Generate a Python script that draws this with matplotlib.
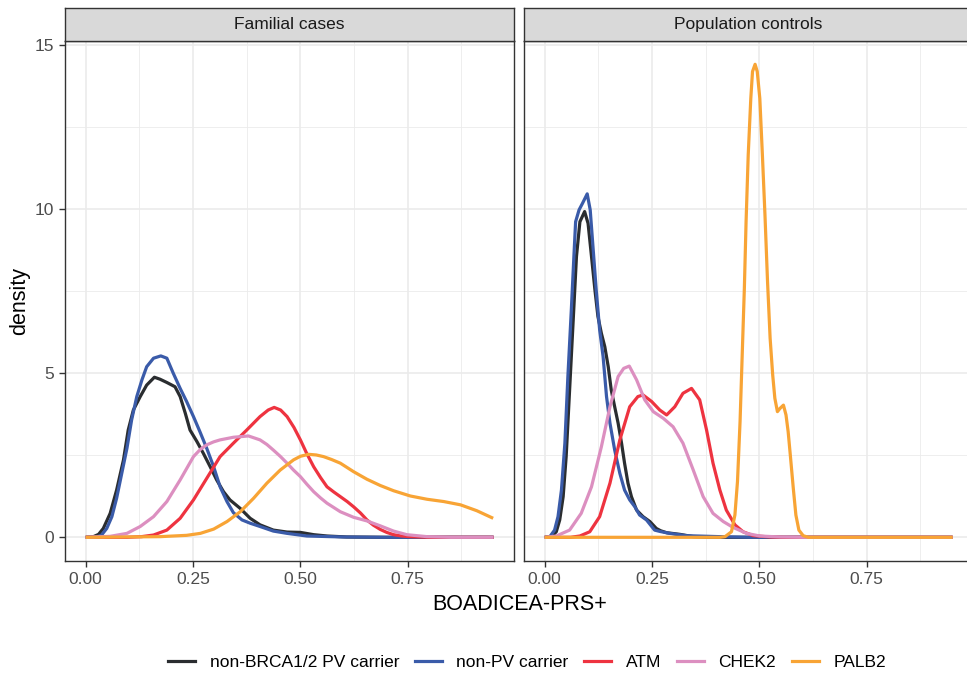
import matplotlib
matplotlib.use("Agg")
import matplotlib.pyplot as plt
from matplotlib.lines import Line2D

plt.rcParams['font.family'] = ['Liberation Sans', 'DejaVu Sans']

groups = ["non-BRCA1/2 PV carrier", "non-PV carrier", "ATM", "CHEK2", "PALB2"]
colors = ["#2A2D30", "#3A5BA9", "#EE3340", "#DC8FC0", "#F8A435"]
panels = ["Familial cases", "Population controls"]
x_ticks = [0.00, 0.25, 0.50, 0.75]
x_ticklabels = ["0.00", "0.25", "0.50", "0.75"]
y_ticks = [0, 5, 10, 15]
y_ticklabels = ["0", "5", "10", "15"]

# ---- Familial cases ----
fam_black_x = [0.0, 0.018, 0.030, 0.041, 0.057, 0.072, 0.088, 0.099, 0.111, 0.127, 0.142, 0.160, 0.173, 0.189, 0.208, 0.220, 0.232, 0.243, 0.259, 0.274, 0.290, 0.305, 0.321, 0.336, 0.360, 0.383, 0.406, 0.437, 0.469, 0.500, 0.531, 0.562, 0.608, 0.70, 0.95]
fam_black_y = [0.0, 0.02, 0.09, 0.27, 0.73, 1.44, 2.36, 3.27, 3.88, 4.29, 4.64, 4.88, 4.82, 4.72, 4.59, 4.29, 3.78, 3.27, 2.92, 2.56, 2.15, 1.75, 1.39, 1.14, 0.88, 0.58, 0.38, 0.22, 0.16, 0.15, 0.08, 0.04, 0.01, 0.0, 0.0]

fam_blue_x = [0.0, 0.026, 0.037, 0.049, 0.061, 0.072, 0.084, 0.096, 0.107, 0.119, 0.131, 0.142, 0.158, 0.175, 0.189, 0.204, 0.220, 0.235, 0.251, 0.266, 0.282, 0.298, 0.313, 0.329, 0.344, 0.364, 0.383, 0.406, 0.437, 0.469, 0.515, 0.60, 0.70, 0.95]
fam_blue_y = [0.0, 0.01, 0.07, 0.27, 0.63, 1.19, 1.95, 2.71, 3.58, 4.29, 4.80, 5.20, 5.46, 5.53, 5.46, 5.00, 4.54, 4.14, 3.68, 3.22, 2.71, 2.15, 1.54, 1.09, 0.75, 0.53, 0.43, 0.33, 0.19, 0.12, 0.04, 0.01, 0.0, 0.0]

fam_red_x = [0.0, 0.096, 0.130, 0.158, 0.189, 0.22, 0.251, 0.282, 0.313, 0.344, 0.375, 0.406, 0.425, 0.439, 0.454, 0.469, 0.485, 0.5, 0.515, 0.531, 0.547, 0.562, 0.578, 0.593, 0.609, 0.624, 0.640, 0.655, 0.670, 0.686, 0.701, 0.717, 0.736, 0.756, 0.8, 0.95]
fam_red_y = [0.0, 0.0, 0.02, 0.07, 0.22, 0.58, 1.14, 1.8, 2.46, 2.87, 3.27, 3.68, 3.88, 3.96, 3.88, 3.68, 3.35, 2.97, 2.55, 2.15, 1.82, 1.54, 1.38, 1.24, 1.09, 0.93, 0.74, 0.53, 0.37, 0.24, 0.15, 0.08, 0.04, 0.02, 0.0, 0.0]

fam_pink_x = [0.0, 0.057, 0.096, 0.127, 0.158, 0.189, 0.22, 0.251, 0.267, 0.282, 0.298, 0.313, 0.344, 0.379, 0.406, 0.422, 0.437, 0.453, 0.469, 0.484, 0.5, 0.515, 0.531, 0.547, 0.562, 0.593, 0.624, 0.655, 0.686, 0.717, 0.748, 0.795, 0.85, 0.95]
fam_pink_y = [0.0, 0.03, 0.12, 0.33, 0.63, 1.09, 1.75, 2.46, 2.68, 2.82, 2.91, 2.97, 3.05, 3.09, 2.97, 2.83, 2.66, 2.47, 2.26, 2.05, 1.85, 1.62, 1.39, 1.20, 1.04, 0.78, 0.61, 0.5, 0.35, 0.19, 0.08, 0.02, 0.0, 0.0]

fam_orange_x = [0.0, 0.173, 0.235, 0.267, 0.298, 0.329, 0.36, 0.391, 0.422, 0.453, 0.484, 0.500, 0.519, 0.537, 0.554, 0.573, 0.593, 0.624, 0.655, 0.686, 0.717, 0.756, 0.795, 0.834, 0.873, 0.911, 0.949]
fam_orange_y = [0.0, 0.02, 0.06, 0.12, 0.25, 0.48, 0.78, 1.19, 1.65, 2.05, 2.36, 2.47, 2.53, 2.51, 2.46, 2.37, 2.26, 2.0, 1.77, 1.58, 1.42, 1.26, 1.16, 1.09, 0.99, 0.81, 0.58]

# ---- Population controls ----
pop_black_x = [0.0, 0.016, 0.027, 0.035, 0.043, 0.050, 0.058, 0.066, 0.074, 0.082, 0.093, 0.101, 0.109, 0.117, 0.124, 0.132, 0.140, 0.148, 0.155, 0.163, 0.171, 0.179, 0.186, 0.194, 0.202, 0.214, 0.229, 0.245, 0.260, 0.270, 0.284, 0.315, 0.346, 0.38, 0.95]
pop_black_y = [0.0, 0.02, 0.17, 0.53, 1.24, 2.46, 4.49, 6.52, 8.56, 9.62, 9.93, 9.57, 8.56, 7.54, 6.73, 6.22, 5.81, 5.20, 4.49, 3.98, 3.48, 2.87, 2.26, 1.65, 1.24, 0.83, 0.63, 0.48, 0.27, 0.2, 0.14, 0.09, 0.02, 0.0, 0.0]

pop_blue_x = [0.0, 0.012, 0.023, 0.031, 0.039, 0.047, 0.054, 0.062, 0.068, 0.072, 0.080, 0.088, 0.099, 0.106, 0.113, 0.120, 0.128, 0.136, 0.144, 0.152, 0.163, 0.175, 0.186, 0.198, 0.210, 0.221, 0.237, 0.256, 0.268, 0.291, 0.33, 0.408, 0.48, 0.95]
pop_blue_y = [0.0, 0.02, 0.22, 0.63, 1.44, 2.87, 4.90, 6.93, 8.56, 9.62, 9.98, 10.18, 10.47, 9.98, 8.76, 7.54, 6.32, 5.51, 4.29, 3.48, 2.66, 1.95, 1.44, 1.14, 0.93, 0.68, 0.53, 0.22, 0.18, 0.12, 0.05, 0.02, 0.0, 0.0]

pop_red_x = [0.0, 0.06, 0.082, 0.105, 0.128, 0.152, 0.175, 0.198, 0.217, 0.229, 0.249, 0.268, 0.284, 0.303, 0.322, 0.342, 0.361, 0.377, 0.392, 0.408, 0.423, 0.443, 0.462, 0.486, 0.524, 0.56, 0.95]
pop_red_y = [0.0, 0.0, 0.04, 0.17, 0.63, 1.65, 2.97, 3.98, 4.29, 4.34, 4.14, 3.88, 3.73, 3.98, 4.39, 4.54, 4.19, 3.27, 2.26, 1.44, 0.83, 0.38, 0.17, 0.05, 0.01, 0.0, 0.0]

pop_pink_x = [0.0, 0.027, 0.058, 0.085, 0.109, 0.132, 0.152, 0.171, 0.184, 0.197, 0.214, 0.233, 0.253, 0.276, 0.299, 0.322, 0.346, 0.369, 0.392, 0.416, 0.439, 0.47, 0.501, 0.548, 0.6, 0.95]
pop_pink_y = [0.0, 0.04, 0.22, 0.73, 1.54, 2.76, 3.98, 4.9, 5.15, 5.22, 4.8, 4.19, 3.83, 3.63, 3.37, 2.87, 2.05, 1.24, 0.73, 0.48, 0.3, 0.12, 0.04, 0.01, 0.0, 0.0]

pop_orange_x = [0.0, 0.408, 0.420, 0.435, 0.443, 0.449, 0.455, 0.460, 0.465, 0.469, 0.474, 0.480, 0.484, 0.490, 0.495, 0.501, 0.507, 0.513, 0.519, 0.525, 0.531, 0.536, 0.542, 0.548, 0.556, 0.562, 0.567, 0.572, 0.579, 0.585, 0.592, 0.602, 0.614, 0.95]
pop_orange_y = [0.0, 0.0, 0.02, 0.17, 0.68, 1.70, 3.53, 5.56, 7.59, 9.62, 11.66, 13.38, 14.2, 14.42, 14.2, 13.38, 11.66, 9.83, 7.79, 6.07, 4.95, 4.24, 3.83, 3.93, 4.03, 3.73, 3.22, 2.51, 1.49, 0.68, 0.22, 0.05, 0.0, 0.0]

fam_series = [(fam_black_x, fam_black_y), (fam_blue_x, fam_blue_y), (fam_red_x, fam_red_y),
              (fam_pink_x, fam_pink_y), (fam_orange_x, fam_orange_y)]
pop_series = [(pop_black_x, pop_black_y), (pop_blue_x, pop_blue_y), (pop_red_x, pop_red_y),
              (pop_pink_x, pop_pink_y), (pop_orange_x, pop_orange_y)]

W, H = 967, 674
fig = plt.figure(figsize=(W / 100, H / 100), dpi=100)
fig.patch.set_facecolor("white")

def px_axes(x0, y0, x1, y1):
    return fig.add_axes([x0 / W, 1 - y1 / H, (x1 - x0) / W, (y1 - y0) / H])

panel_top, panel_bot = 41, 560.7
strip_top = 7.5
boxes = [(65.3, 514.0), (524.3, 973.0)]
xlim = (-0.0475, 0.9975)
ylim = (-0.713, 15.13)
border = "#333333"
lw_line = 2.3

for i, (x0, x1) in enumerate(boxes):
    ax = px_axes(x0, panel_top, x1, panel_bot)
    ax.set_xlim(*xlim)
    ax.set_ylim(*ylim)
    ax.set_facecolor("white")
    for xm in [0.125, 0.375, 0.625, 0.875]:
        ax.axvline(xm, color="#EBEBEB", lw=0.6, zorder=0)
    for ym in [2.5, 7.5, 12.5]:
        ax.axhline(ym, color="#EBEBEB", lw=0.6, zorder=0)
    for xv in x_ticks:
        ax.axvline(xv, color="#EBEBEB", lw=1.2, zorder=0)
    for yv in y_ticks:
        ax.axhline(yv, color="#EBEBEB", lw=1.2, zorder=0)
    series = fam_series if i == 0 else pop_series
    for (xs, ys), c in zip(series, colors):
        ax.plot(xs, ys, color=c, lw=lw_line, solid_joinstyle="round", solid_capstyle="butt", zorder=2)
    for s in ax.spines.values():
        s.set_color(border)
        s.set_linewidth(1.0)
    ax.set_xticks(x_ticks)
    ax.set_xticklabels(x_ticklabels)
    ax.tick_params(axis="x", colors=border, labelcolor="#4D4D4D", labelsize=12.5,
                   length=4.3, width=1.0, pad=4)
    if i == 0:
        ax.set_yticks(y_ticks)
        ax.set_yticklabels(y_ticklabels)
        ax.tick_params(axis="y", colors=border, labelcolor="#4D4D4D", labelsize=12.5,
                       length=4.3, width=1.0, pad=3.5)
    else:
        ax.set_yticks([])
    # strip
    sax = px_axes(x0, strip_top, x1, panel_top)
    sax.set_facecolor("#D9D9D9")
    sax.set_xticks([])
    sax.set_yticks([])
    for s in sax.spines.values():
        s.set_color(border)
        s.set_linewidth(1.0)
    sax.text(0.5, 0.5, panels[i], ha="center", va="center", fontsize=12.5,
             color="#1A1A1A", transform=sax.transAxes)

fig.text(519.5 / W, 1 - 604 / H, "BOADICEA-PRS+", ha="center", va="center", fontsize=15.5, color="black")
fig.text(20 / W, 1 - 301 / H, "density", ha="center", va="center", rotation=90, fontsize=15.5, color="black")

handles = [Line2D([0], [0], color=c, lw=lw_line) for c in colors]
fig.legend(handles, groups, loc="center", bbox_to_anchor=(527 / W, 1 - 662 / H), ncol=5,
           frameon=False, fontsize=12.5, handlelength=1.55, handletextpad=0.85,
           columnspacing=0.9, labelcolor="black")

fig.savefig("out.png", dpi=100, facecolor="white")
